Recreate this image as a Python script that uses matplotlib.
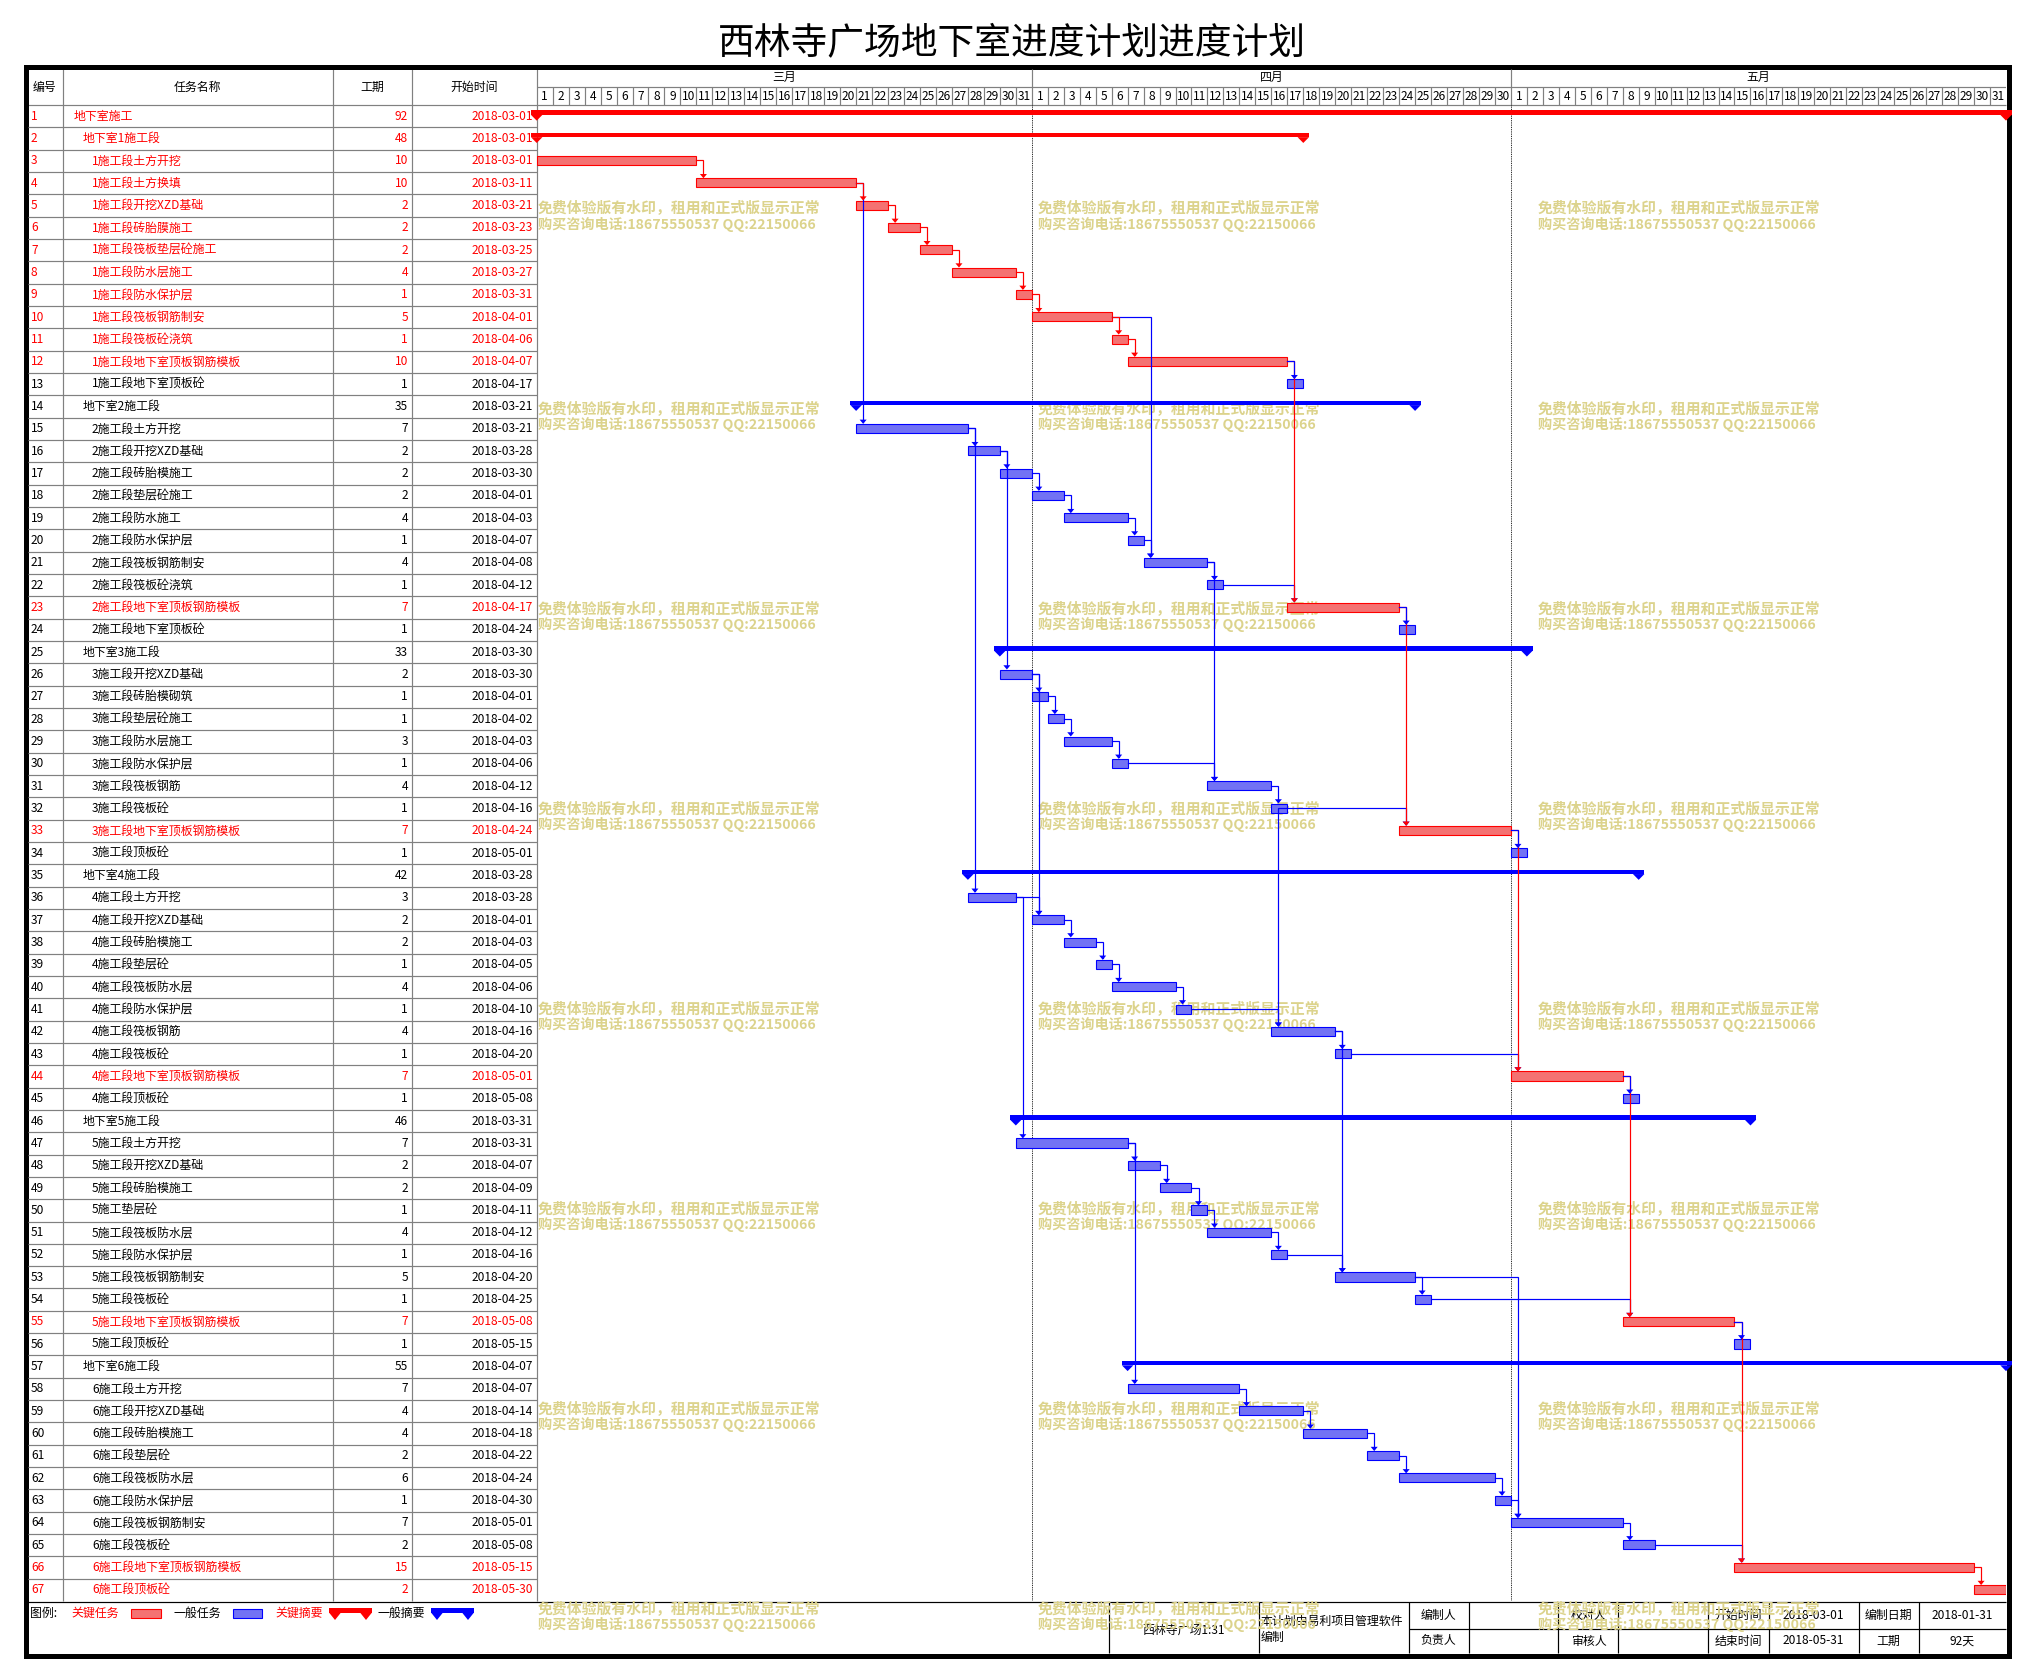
import numpy as np
import matplotlib
matplotlib.use("Agg")
import matplotlib.pyplot as plt
from matplotlib.patches import Rectangle, Polygon

plt.rcParams['font.family'] = ['Noto Sans CJK SC', 'DejaVu Sans']

# ---------------- data ----------------
title = "西林寺广场地下室进度计划进度计划"
header_cols = ["编号", "任务名称", "工期", "开始时间"]
months = ["三月", "四月", "五月"]
month_days = [31, 30, 31]
base_date = "2018-03-01"

names = [
    "地下室施工", "地下室1施工段", "1施工段土方开挖", "1施工段土方换填", "1施工段开挖XZD基础",
    "1施工段砖胎膜施工", "1施工段筏板垫层砼施工", "1施工段防水层施工", "1施工段防水保护层",
    "1施工段筏板钢筋制安", "1施工段筏板砼浇筑", "1施工段地下室顶板钢筋模板", "1施工段地下室顶板砼",
    "地下室2施工段", "2施工段土方开挖", "2施工段开挖XZD基础", "2施工段砖胎模施工", "2施工段垫层砼施工",
    "2施工段防水施工", "2施工段防水保护层", "2施工段筏板钢筋制安", "2施工段筏板砼浇筑",
    "2施工段地下室顶板钢筋模板", "2施工段地下室顶板砼",
    "地下室3施工段", "3施工段开挖XZD基础", "3施工段砖胎模砌筑", "3施工段垫层砼施工", "3施工段防水层施工",
    "3施工段防水保护层", "3施工段筏板钢筋", "3施工段筏板砼", "3施工段地下室顶板钢筋模板", "3施工段顶板砼",
    "地下室4施工段", "4施工段土方开挖", "4施工段开挖XZD基础", "4施工段砖胎模施工", "4施工段垫层砼",
    "4施工段筏板防水层", "4施工段防水保护层", "4施工段筏板钢筋", "4施工段筏板砼",
    "4施工段地下室顶板钢筋模板", "4施工段顶板砼",
    "地下室5施工段", "5施工段土方开挖", "5施工段开挖XZD基础", "5施工段砖胎模施工", "5施工垫层砼",
    "5施工段筏板防水层", "5施工段防水保护层", "5施工段筏板钢筋制安", "5施工段筏板砼",
    "5施工段地下室顶板钢筋模板", "5施工段顶板砼",
    "地下室6施工段", "6施工段土方开挖", "6施工段开挖XZD基础", "6施工段砖胎模施工", "6施工段垫层砼",
    "6施工段筏板防水层", "6施工段防水保护层", "6施工段筏板钢筋制安", "6施工段筏板砼",
    "6施工段地下室顶板钢筋模板", "6施工段顶板砼",
]

durations = [92, 48, 10, 10, 2, 2, 2, 4, 1, 5, 1, 10, 1,
             35, 7, 2, 2, 2, 4, 1, 4, 1, 7, 1,
             33, 2, 1, 1, 3, 1, 4, 1, 7, 1,
             42, 3, 2, 2, 1, 4, 1, 4, 1, 7, 1,
             46, 7, 2, 2, 1, 4, 1, 5, 1, 7, 1,
             55, 7, 4, 4, 2, 6, 1, 7, 2, 15, 2]

starts = [
    "2018-03-01", "2018-03-01", "2018-03-01", "2018-03-11", "2018-03-21", "2018-03-23", "2018-03-25",
    "2018-03-27", "2018-03-31", "2018-04-01", "2018-04-06", "2018-04-07", "2018-04-17",
    "2018-03-21", "2018-03-21", "2018-03-28", "2018-03-30", "2018-04-01", "2018-04-03", "2018-04-07",
    "2018-04-08", "2018-04-12", "2018-04-17", "2018-04-24",
    "2018-03-30", "2018-03-30", "2018-04-01", "2018-04-02", "2018-04-03", "2018-04-06", "2018-04-12",
    "2018-04-16", "2018-04-24", "2018-05-01",
    "2018-03-28", "2018-03-28", "2018-04-01", "2018-04-03", "2018-04-05", "2018-04-06", "2018-04-10",
    "2018-04-16", "2018-04-20", "2018-05-01", "2018-05-08",
    "2018-03-31", "2018-03-31", "2018-04-07", "2018-04-09", "2018-04-11", "2018-04-12", "2018-04-16",
    "2018-04-20", "2018-04-25", "2018-05-08", "2018-05-15",
    "2018-04-07", "2018-04-07", "2018-04-14", "2018-04-18", "2018-04-22", "2018-04-24", "2018-04-30",
    "2018-05-01", "2018-05-08", "2018-05-15", "2018-05-30",
]

summary_rows = [1, 2, 14, 25, 35, 46, 57]
critical_rows = [1, 2, 3, 4, 5, 6, 7, 8, 9, 10, 11, 12, 23, 33, 44, 55, 66, 67]

links = [(3, 4), (4, 5), (5, 6), (6, 7), (7, 8), (8, 9), (9, 10), (10, 11), (11, 12), (12, 13), (12, 23), (10, 21),
         (4, 15), (15, 16), (15, 36), (16, 17), (16, 26), (17, 18), (18, 19), (19, 20), (20, 21), (21, 22),
         (21, 31), (22, 23), (23, 24), (23, 33),
         (26, 27), (26, 37), (27, 28), (28, 29), (29, 30), (30, 31), (31, 32), (32, 33), (32, 42), (33, 34), (33, 44),
         (36, 37), (36, 47), (37, 38), (38, 39), (39, 40), (40, 41), (41, 42), (42, 43), (42, 53), (43, 44),
         (44, 45), (44, 55),
         (47, 48), (47, 58), (48, 49), (49, 50), (50, 51), (51, 52), (52, 53), (53, 54), (53, 64), (54, 55),
         (55, 56), (55, 66),
         (58, 59), (59, 60), (60, 61), (61, 62), (62, 63), (63, 64), (64, 65), (65, 66), (66, 67)]

legend_items = ["关键任务", "一般任务", "关键摘要", "一般摘要"]
watermark_lines = ["免费体验版有水印，租用和正式版显示正常", "购买咨询电话:18675550537 QQ:22150066"]
footer_project = "西林寺广场1:31"
footer_note = ["本计划由易利项目管理软件", "编制"]
footer_labels_top = ["编制人", "校对人", "开始时间", "编制日期"]
footer_labels_bot = ["负责人", "审核人", "结束时间", "工期"]
footer_values_top = ["", "", "2018-03-01", "2018-01-31"]
footer_values_bot = ["", "", "2018-05-31", "92天"]

# ---------------- derived ----------------
N = len(names)
offsets = (np.array(starts, dtype='datetime64[D]') - np.datetime64(base_date)).astype(int)
durs = np.array(durations)
ends = offsets + durs
is_sum = np.array([(i + 1) in summary_rows for i in range(N)])
is_crit = np.array([(i + 1) in critical_rows for i in range(N)])
total_days = sum(month_days)

RED = "#FF0000"
BLUE = "#0000FF"
RED_FILL = "#F47272"
BLUE_FILL = "#7272F4"
GRAY = "#808080"
WM = "#DCD38C"
FS = 8.6

# ---------------- layout (pixels) ----------------
W, H, DPI = 2032, 1679, 100
TL = 28.0
COLS = [28.0, 62.5, 333.0, 412.0, 536.7]
GX0, GX1 = 536.7, 2006.0
HEAD_TOP, ROWS_TOP = 69.0, 105.0
ROW_H = 22.33
ROWS_BOT = ROWS_TOP + N * ROW_H
FOOT_TOP, FOOT_MID, FOOT_BOT = 1602.0, 1629.0, 1653.0
PX = 72.0 / DPI

fig = plt.figure(figsize=(W / DPI, H / DPI), dpi=DPI)
base = fig.add_axes([0, 0, 1, 1])
base.set_xlim(0, W)
base.set_ylim(H, 0)
base.axis('off')

# title
base.text(1012, 43, title, ha='center', va='center', fontsize=26.5, color='black')

# table header
base.hlines([ROWS_TOP], TL, GX1, colors=GRAY, lw=1.2 * PX)
base.vlines(COLS[1:], HEAD_TOP, ROWS_BOT, colors=GRAY, lw=1.2 * PX)
hy = (HEAD_TOP + ROWS_TOP) / 2
base.text(33, hy, header_cols[0], ha='left', va='center', fontsize=FS)
for k in range(1, 4):
    base.text((COLS[k] + COLS[k + 1]) / 2, hy, header_cols[k], ha='center', va='center', fontsize=FS)

# table rows
tax = fig.add_axes([TL / W, 1 - ROWS_BOT / H, (GX0 - TL) / W, (ROWS_BOT - ROWS_TOP) / H])
tax.set_xlim(TL, GX0)
tax.set_ylim(N, 0)
tax.axis('off')
tax.hlines(np.arange(1, N), TL, GX0, colors=GRAY, lw=1.2 * PX)
for i in range(N):
    c = RED if is_crit[i] else 'black'
    lvl = 0 if i == 0 else (1 if is_sum[i] else 2)
    tax.text(31, i + 0.5, str(i + 1), ha='left', va='center', fontsize=FS, color=c)
    tax.text([74, 83, 92][lvl], i + 0.5, names[i], ha='left', va='center', fontsize=FS, color=c)
    tax.text(408, i + 0.5, str(durations[i]), ha='right', va='center', fontsize=FS, color=c)
    tax.text(533, i + 0.5, starts[i], ha='right', va='center', fontsize=FS, color=c)

# gantt header
hax = fig.add_axes([GX0 / W, 1 - ROWS_TOP / H, (GX1 - GX0) / W, (ROWS_TOP - HEAD_TOP) / H])
hax.set_xlim(0, total_days)
hax.set_ylim(1, 0)
hax.axis('off')
mb = np.concatenate([[0], np.cumsum(month_days)])
hax.hlines(0.5, 0, total_days, colors=GRAY, lw=1.2 * PX)
day_lines = [d for d in range(1, total_days) if d not in mb]
hax.vlines(day_lines, 0.5, 1, colors=GRAY, lw=1.2 * PX)
hax.vlines(mb[1:-1], 0, 1, colors=GRAY, lw=1.2 * PX)
for m, name in enumerate(months):
    hax.text((mb[m] + mb[m + 1]) / 2, 0.24, name, ha='center', va='center', fontsize=FS)
    for d in range(month_days[m]):
        hax.text(mb[m] + d + 0.5, 0.75, str(d + 1), ha='center', va='center', fontsize=FS)

# watermarks (under the gantt marks)
for k in range(8):
    y1 = 208.5 + 200.07 * k
    for x in [538, 1037.7, 1538]:
        base.text(x, y1, watermark_lines[0], ha='left', va='center', fontsize=10.7,
                  color=WM, fontweight='bold', zorder=6)
        base.text(x, y1 + 16, watermark_lines[1], ha='left', va='center', fontsize=10.2,
                  color=WM, fontweight='bold', zorder=6)

# gantt body
gax = fig.add_axes([GX0 / W, 1 - ROWS_BOT / H, (GX1 - GX0) / W, (ROWS_BOT - ROWS_TOP) / H])
gax.set_xlim(0, total_days)
gax.set_ylim(N, 0)
gax.axis('off')
gax.vlines(mb[1:-1], 0, N, colors='black', linestyles=(0, (1, 1)), lw=0.9 * PX)

rows = np.arange(N)
task = ~is_sum
for crit, fc, ec in [(True, RED_FILL, RED), (False, BLUE_FILL, BLUE)]:
    m = task & (is_crit == crit)
    gax.barh(rows[m] + 0.485, durs[m], left=offsets[m], height=0.405,
             color=fc, edgecolor=ec, lw=1.1 * PX, zorder=2)

hw = 0.36
for i in rows[is_sum]:
    c = RED if is_crit[i] else BLUE
    gax.barh(i + 0.342, durs[i] + 2 * hw, left=offsets[i] - hw, height=0.21,
             color=c, lw=0, zorder=2, clip_on=False)
    for d in (offsets[i], ends[i]):
        gax.add_patch(Polygon([(d - hw, 0.44 + i), (d + hw, 0.44 + i), (d, i + 0.70)],
                              closed=True, color=c, lw=0, zorder=2, clip_on=False))

# links: higher successor first; blue before red within same successor
order = sorted(links, key=lambda ps: (-ps[1], is_crit[ps[0] - 1] and is_crit[ps[1] - 1]))
ah_w, ah_h = 0.22, 0.19
for p, s in order:
    pi, si = p - 1, s - 1
    c = RED if (is_crit[pi] and is_crit[si]) else BLUE
    xs = offsets[si] + 0.44
    yc = pi + 0.485
    yt = si + 0.28
    gax.plot([ends[pi], xs, xs], [yc, yc, yt - ah_h * 0.5], color=c, lw=1.2 * PX, zorder=3,
             solid_joinstyle='miter')
    gax.add_patch(Polygon([(xs - ah_w, yt - ah_h), (xs + ah_w, yt - ah_h), (xs, yt)],
                          closed=True, color=c, lw=0, zorder=3))

# legend row
base.hlines([FOOT_TOP], TL, GX1, colors='black', lw=1.2 * PX)
ly = 1613.5
base.text(30, ly, "图例:", ha='left', va='center', fontsize=FS)
leg_text_x = [71, 173, 275, 377]
leg_colors = [RED, 'black', RED, 'black']
for t, x, c in zip(legend_items, leg_text_x, leg_colors):
    base.text(x, ly, t, ha='left', va='center', fontsize=FS, color=c)
base.add_patch(Rectangle((131, 1609), 30, 9, facecolor=RED_FILL, edgecolor=RED, lw=1.1 * PX))
base.add_patch(Rectangle((233, 1609), 29, 9, facecolor=BLUE_FILL, edgecolor=BLUE, lw=1.1 * PX))
for x0, x1, c in [(329, 372, RED), (431, 474, BLUE)]:
    base.add_patch(Rectangle((x0, 1608), x1 - x0, 5, color=c, lw=0))
    for xx in (x0 + 6, x1 - 6):
        base.add_patch(Polygon([(xx - 6, 1612.5), (xx + 6, 1612.5), (xx, 1620)], closed=True, color=c, lw=0))

# footer box
FC = [1109, 1258.7, 1408.6, 1468.6, 1558.4, 1618.4, 1708.2, 1768.8, 1858.6, 1918.7, GX1]
base.vlines(FC[:-1], FOOT_TOP, FOOT_BOT, colors='black', lw=1.2 * PX, zorder=3)
base.hlines([FOOT_MID], FC[2], GX1, colors='black', lw=1.2 * PX, zorder=3)
ty, by = (FOOT_TOP + FOOT_MID) / 2, (FOOT_MID + FOOT_BOT) / 2
base.text((FC[0] + FC[1]) / 2, 1630, footer_project, ha='center', va='center', fontsize=FS, zorder=3)
base.text(FC[1] + 2, 1621, footer_note[0], ha='left', va='center', fontsize=FS, zorder=3)
base.text(FC[1] + 2, 1637, footer_note[1], ha='left', va='center', fontsize=FS, zorder=3)
lab_cols = [2, 4, 6, 8]
for k, ci in enumerate(lab_cols):
    cx = (FC[ci] + FC[ci + 1]) / 2
    vx = (FC[ci + 1] + FC[ci + 2]) / 2
    base.text(cx, ty, footer_labels_top[k], ha='center', va='center', fontsize=FS, zorder=3)
    base.text(cx, by, footer_labels_bot[k], ha='center', va='center', fontsize=FS, zorder=3)
    base.text(vx, ty, footer_values_top[k], ha='center', va='center', fontsize=FS, zorder=3)
    base.text(vx, by, footer_values_bot[k], ha='center', va='center', fontsize=FS, zorder=3)

# outer thick border
base.add_patch(Rectangle((25.5, 67), 2008.5 - 25.5, 1655.5 - 67, fill=False, edgecolor='black',
                         lw=5 * PX, joinstyle='miter', zorder=4))

fig.savefig("out.png", dpi=DPI)
